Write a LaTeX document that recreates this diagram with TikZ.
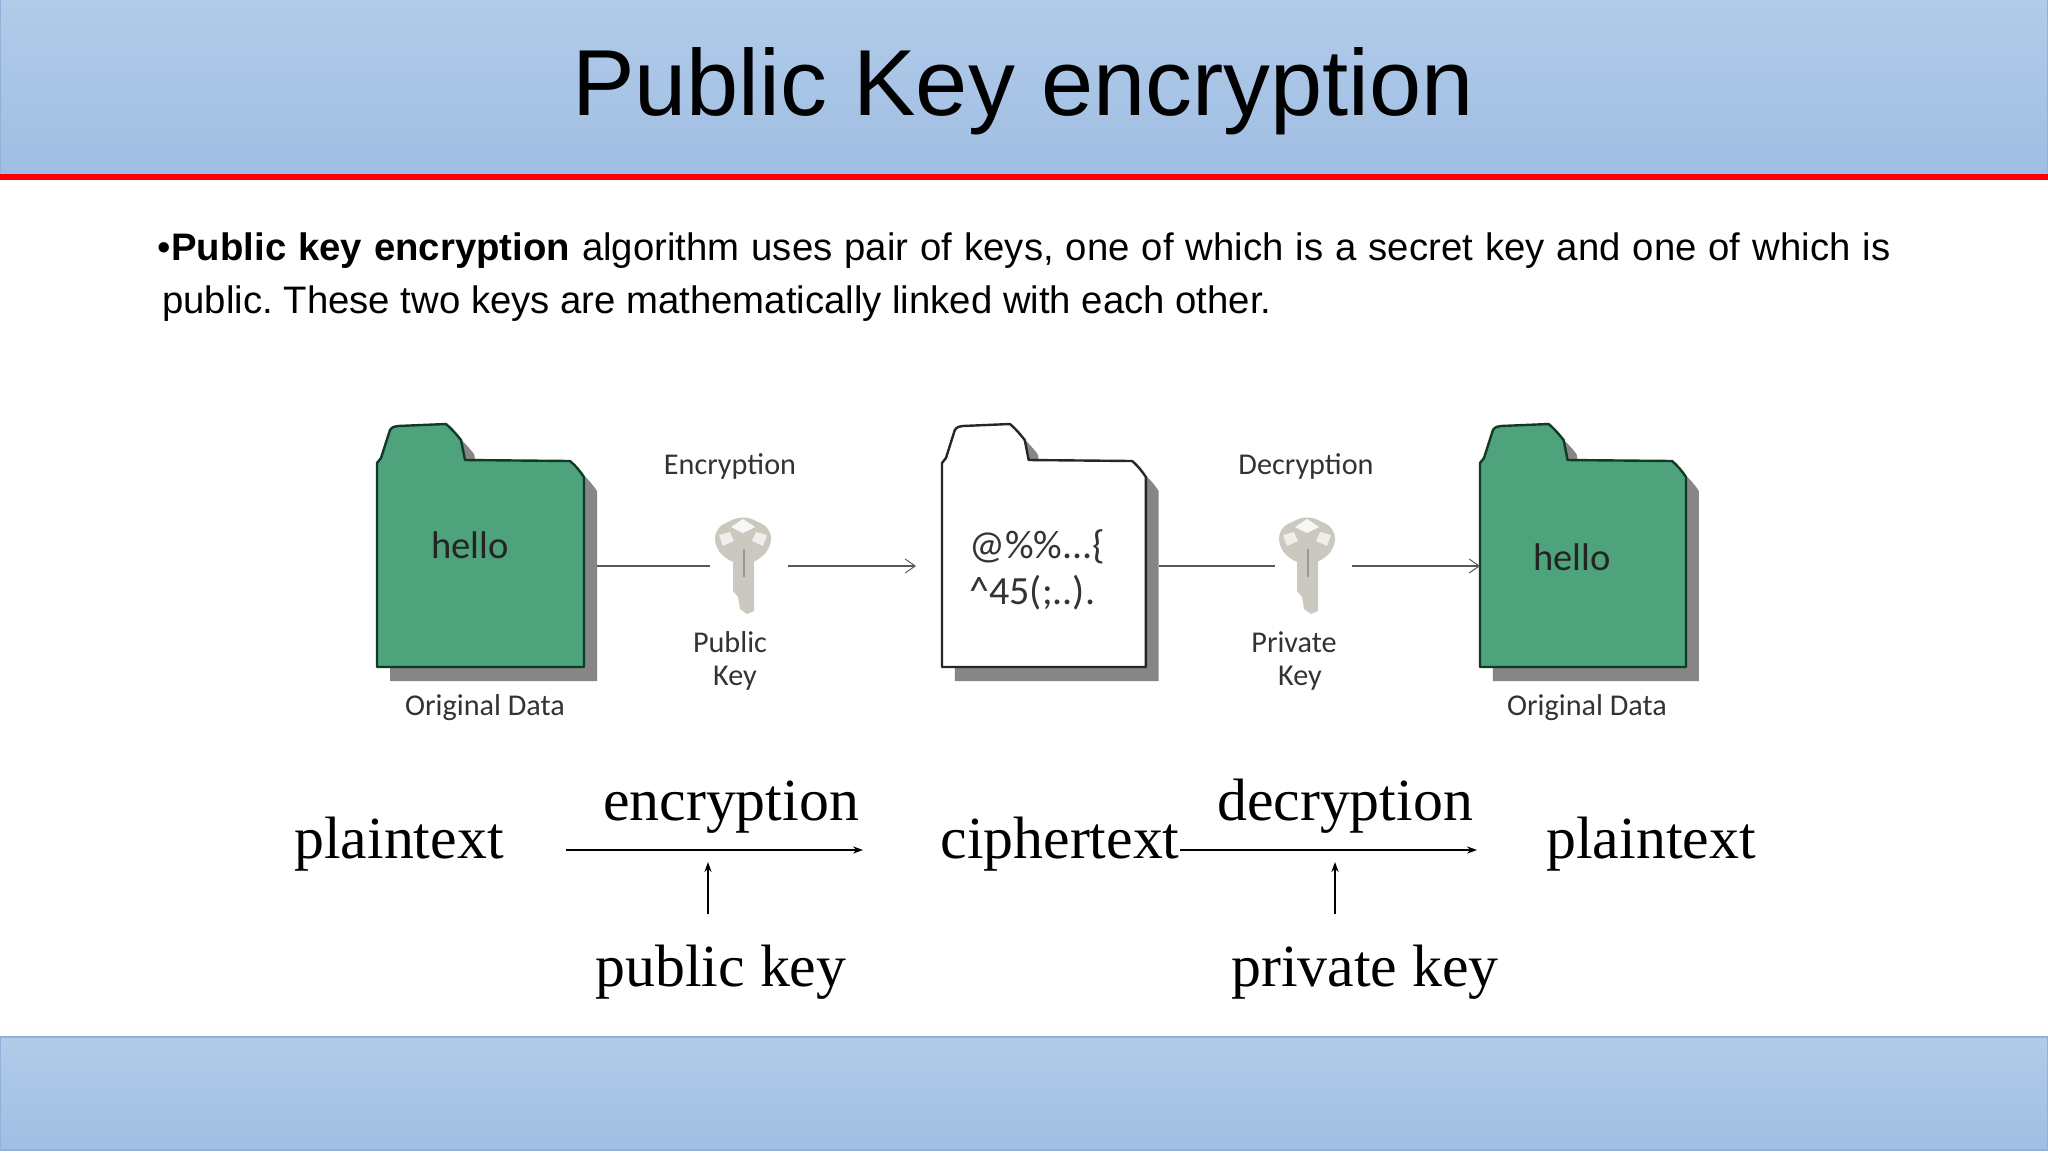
\documentclass[tikz,border=0pt]{standalone}
\usepackage{fontspec}
\setmainfont{Liberation Sans}
\newfontfamily\serifface{Liberation Serif}
\newfontfamily\imgface{Carlito}
\usetikzlibrary{arrows.meta}
\frenchspacing
\definecolor{bandtop}{HTML}{B1CBE9}
\definecolor{bandbot}{HTML}{A0BEE3}
\definecolor{bandline}{HTML}{8FB2DA}
\definecolor{foldergreen}{HTML}{4EA37C}
\definecolor{folderline}{HTML}{0F3B26}
\definecolor{foldershadow}{HTML}{868686}
\definecolor{keygrey}{HTML}{CBC8BF}
\definecolor{imgtext}{HTML}{333333}
\tikzset{
  band/.style={top color=bandtop,bottom color=bandbot,draw=bandline,line width=1pt},
  titletext/.style={font=\fontsize{46.9}{52}\selectfont,anchor=base,inner sep=0pt},
  bodytext/.style={font=\fontsize{19.15}{22}\selectfont,anchor=base west,inner sep=0pt},
  imglabel/.style={font=\imgface\fontsize{15.1}{17}\selectfont,text=imgtext,anchor=center,inner sep=0pt},
  imgbig/.style={font=\imgface\fontsize{19.3}{22}\selectfont,text=imgtext!70!black,anchor=center,inner sep=0pt},
  seriftext/.style={font=\serifface\fontsize{29.9}{34}\selectfont,anchor=base,inner sep=0pt},
  imgflow/.style={draw=black!65,line width=0.9pt},
  imgarrow/.style={imgflow,-{Straight Barb[length=5pt,width=7pt,line width=0.5pt]}},
  eqarrow/.style={draw=black,line width=0.6pt,-{Stealth[length=5pt,width=3.6pt]}}
}
\newcommand{\folderpath}{(0,38) -- (4,33) -- (13,5) .. controls (15,2) and (18,1) .. (21,1)
  -- (69,-1) .. controls (75,4) and (80,10) .. (84,15) -- (88,35) -- (193,36)
  .. controls (198,40) and (203,46) .. (207,52) -- (207,242) -- (0,242) -- cycle}
% #1 left x, #2 fill, #3 width factor, #4 outline
\newcommand{\drawfolder}[4]{%
  \begin{scope}[shift={(#1,425)},xscale=#3]
    \begin{scope}[shift={(13,14)}]
      \fill[foldershadow] \folderpath;
    \end{scope}
    \draw[fill=#2,draw=#4,line width=1.2pt,line join=round] \folderpath;
  \end{scope}}
% key, centred on the bow
\newcommand{\drawkey}[1]{%
  \begin{scope}[shift={(#1,539)}]
    \fill[keygrey] (-10,15) -- (11,15) -- (11,72) -- (4,75) -- (-3,70) -- (-5,58) -- (-10,52) -- cycle;
    \fill[keygrey,rounded corners=5pt] (-28,-11) -- (0,-24) -- (28,-11) -- (28,10) -- (10,25) -- (-10,25) -- (-28,10) -- cycle;
    \fill[white!85!keygrey] (-12,-12) -- (0,-20) -- (12,-12) -- (0,-6) -- cycle;
    \fill[white!70!keygrey] (-24,-4) -- (-13,-7) -- (-9,2) -- (-20,7) -- cycle;
    \fill[white!70!keygrey] (24,-4) -- (13,-7) -- (9,2) -- (20,7) -- cycle;
    \draw[black!40,line width=0.8pt] (1,10) -- (1,38);
  \end{scope}}
\begin{document}
\begin{tikzpicture}[x=0.5pt,y=-0.5pt]
\useasboundingbox (0,0) rectangle (2048,1152);
\fill[white] (0,0) rectangle (2048,1152);
% bands
\path[band] (0,-2) rectangle (2048,175);
\fill[red] (0,174) rectangle (2048,180);
\path[band] (0,1037) rectangle (2048,1150);
% title
\node[titletext] (title) at (1023,115) {Public Key encryption};
% body
\node[bodytext] (bullet) at (157,260) {•};
\node[bodytext] (line1) at (171,260) {\hbox to 859.5pt{\textbf{Public key encryption} algorithm uses pair of keys, one of which is a secret key and one of which is}};
\node[bodytext] (line2) at (162,313) {public. These two keys are mathematically linked with each other.};
% folders
\drawfolder{377}{foldergreen}{1}{folderline}
\drawfolder{942}{white}{0.985}{black!85}
\drawfolder{1480}{foldergreen}{0.995}{folderline}
\node[imgbig] (hello1) at (470,545) {hello};
\node[imglabel,font=\imgface\fontsize{20}{23}\selectfont,align=left,anchor=west] (cipher) at (969,570) {@\%\%...\{\\\textasciicircum 45(;..).};
\node[imgbig] (hello2) at (1572,557) {hello};
\node[imglabel] (orig1) at (485,708) {Original Data};
\node[imglabel] (orig2) at (1587,708) {Original Data};
% keys
\drawkey{743}
\drawkey{1307}
\node[imglabel] (enc) at (730,466) {Encryption};
\node[imglabel] (pub) at (730,642) {Public};
\node[imglabel] (pubk) at (735,678) {Key};
\node[imglabel] (dec) at (1306,466) {Decryption};
\node[imglabel] (priv) at (1294,642) {Private};
\node[imglabel] (privk) at (1300,678) {Key};
% image connectors
\coordinate (f1e) at (597,566); \coordinate (k1w) at (710,566);
\coordinate (k1e) at (788,566); \coordinate (f2w) at (916,566);
\coordinate (f2e) at (1159,566); \coordinate (k2w) at (1275,566);
\coordinate (k2e) at (1352,566); \coordinate (f3w) at (1480,566);
\draw[imgflow] (f1e) -- (k1w);
\draw[imgarrow] (k1e) -- (f2w);
\draw[imgflow] (f2e) -- (k2w);
\draw[imgarrow] (k2e) -- (f3w);
% equation row
\node[seriftext] (p1) at (399,858) {plaintext};
\node[seriftext] (e1) at (731,820) {encryption};
\node[seriftext] (c1) at (1060,858) {ciphertext};
\node[seriftext] (d1) at (1345,820) {decryption};
\node[seriftext] (p2) at (1651,858) {plaintext};
\node[seriftext] (k1) at (721,986) {public key};
\node[seriftext] (k2) at (1365,986) {private key};
\coordinate (a1s) at (566,850); \coordinate (a1e) at (863,850);
\coordinate (a2s) at (1180,850); \coordinate (a2e) at (1477,850);
\coordinate (u1s) at (708,914); \coordinate (u1e) at (708,862);
\coordinate (u2s) at (1335,914); \coordinate (u2e) at (1335,862);
\draw[eqarrow] (a1s) -- (a1e);
\draw[eqarrow] (a2s) -- (a2e);
\draw[eqarrow] (u1s) -- (u1e);
\draw[eqarrow] (u2s) -- (u2e);
\end{tikzpicture}
\end{document}
